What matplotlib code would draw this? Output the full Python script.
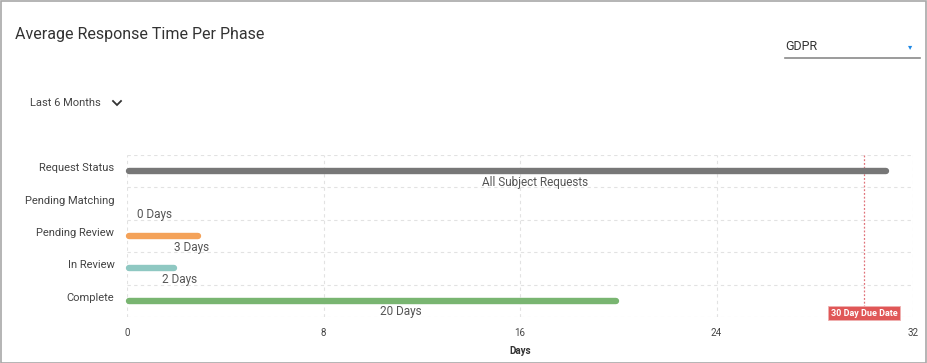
import matplotlib.pyplot as plt
from matplotlib.patches import Rectangle

plt.rcParams["font.family"] = ["Roboto", "DejaVu Sans"]

phases = ["Request Status", "Pending Matching", "Pending Review", "In Review", "Complete"]
days = [31, 0, 3, 2, 20]
bar_labels = ["All Subject Requests", "0 Days", "3 Days", "2 Days", "20 Days"]
bar_colors = ["#777777", "#cccccc", "#f4a259", "#8fc8c2", "#79b571"]
x_ticks = [0, 8, 16, 24, 32]
due_date = 30
due_label = "30 Day Due Date"

W, H = 927, 363
fig = plt.figure(figsize=(W / 100, H / 100), dpi=100)


def px(x, y):
    # pixel position (from top-left) to figure fraction
    return x / W, 1 - y / H


# card border
fig.patches.append(Rectangle((0.5 / W, 0.5 / H), 1 - 1.5 / W, 1 - 1.5 / H,
                             transform=fig.transFigure, fill=False,
                             edgecolor="#a8a8a8", linewidth=1.2))

fig.text(*px(15, 34), "Average Response Time Per Phase", fontsize=11.5,
         color="#333333", va="center", ha="left")
fig.text(*px(30, 103), "Last 6 Months", fontsize=8, color="#444444",
         va="center", ha="left")
cx, cy = zip(px(113, 101), px(117, 105), px(121, 101))
fig.add_artist(plt.Line2D(cx, cy, transform=fig.transFigure, color="#333333",
                          linewidth=1.3, solid_joinstyle="miter"))
fig.text(*px(785, 46), "GDPR", fontsize=9, color="#333333",
         va="center", ha="left")
fig.text(*px(910, 47), "\u25BE", fontsize=6, color="#1e88e5",
         va="center", ha="center", family="DejaVu Sans")
lx, ly = zip(px(785, 58), px(920, 58))
fig.add_artist(plt.Line2D(lx, ly, transform=fig.transFigure, color="#8a8a8a", linewidth=1.2))

ax = fig.add_axes([127 / W, 1 - 317 / H, (913 - 127) / W, (317 - 155) / H])
ax.set_xlim(0, 32)
ax.set_ylim(len(phases) - 0.5, -0.5)

for i, (v, lab, c) in enumerate(zip(days, bar_labels, bar_colors)):
    if v > 0:
        ax.plot([0.1, v - 0.1], [i, i], color=c, linewidth=4.6,
                solid_capstyle="round", zorder=3, clip_on=False)
    ax.annotate(lab, xy=(v / 2, i), xytext=(20, -8), textcoords="offset points",
                ha="center", va="center", fontsize=8.5, color="#555555", zorder=4)

ax.set_xticks(x_ticks)
ax.set_xticklabels([str(t) for t in x_ticks], fontsize=7, color="#444444")
ax.set_yticks(range(len(phases)))
ax.set_yticklabels(phases, fontsize=8, color="#444444")
ax.set_yticks([i - 0.5 for i in range(len(phases) + 1)], minor=True)
ax.tick_params(axis="both", which="both", length=0)
ax.tick_params(axis="x", pad=8)
ax.tick_params(axis="y", pad=9)
for lbl in ax.get_yticklabels():
    lbl.set_va("baseline")

ax.grid(axis="x", which="major", color="#e2e2e2", linestyle=(0, (3, 3)), linewidth=0.8)
ax.grid(axis="y", which="minor", color="#e2e2e2", linestyle=(0, (3, 3)), linewidth=0.8)
for s in ax.spines.values():
    s.set_visible(False)

ax.set_xlabel("Days", fontsize=7, fontweight="bold", color="#333333", labelpad=6)

# due date marker
ax.plot([due_date, due_date], [-0.5, 4.22], color="#e0737a", linestyle=(0, (1.5, 1.5)),
        linewidth=0.9, zorder=2)
ax.text(due_date, 4.38, due_label, ha="center", va="center", fontsize=6.5,
        color="white", fontweight="bold", zorder=5,
        bbox=dict(boxstyle="square,pad=0.28", facecolor="#e05757",
                  edgecolor="#f0b0b0", linewidth=0.6))

fig.savefig("out.png", dpi=100)
